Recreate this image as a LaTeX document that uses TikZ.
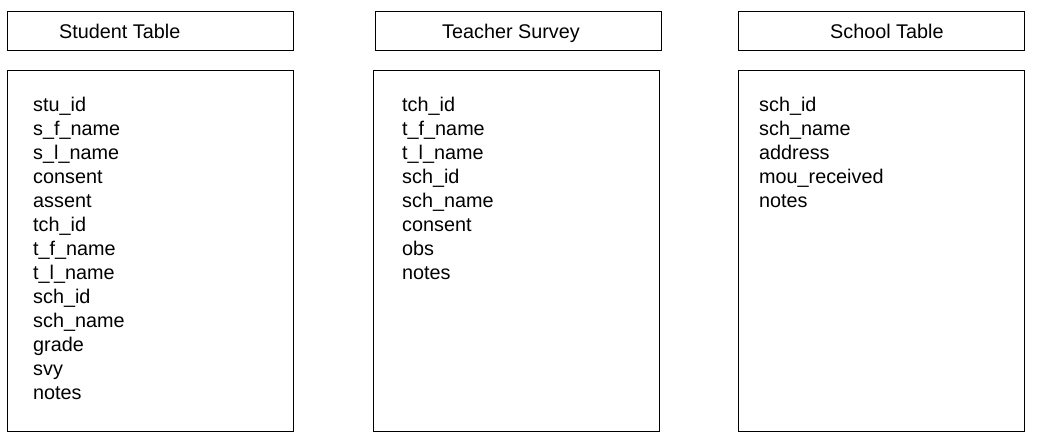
\documentclass[tikz,border=0pt]{standalone}
\usepackage{fontspec}
\setmainfont{Liberation Sans}
\begin{document}
\begin{tikzpicture}[x=1pt,y=-1pt,
  box/.style={draw=black,line width=1pt,fill=white},
  hdr/.style={anchor=base west,inner sep=0pt,font=\fontsize{19.8}{23}\selectfont},
  fields/.style={anchor=base west,inner sep=0pt,align=left,font=\fontsize{19.8}{24}\selectfont}]
\useasboundingbox (0,0) rectangle (1038,444);
\fill[white] (0,0) rectangle (1038,444);
% headers
\draw[box] (7.5,12) rectangle (293.5,50.5);
\draw[box] (375.5,12) rectangle (661.5,50.5);
\draw[box] (738.5,12) rectangle (1024.5,50.5);
\node[hdr] (hs) at (59,38.5) {Student Table};
\node[hdr] (ht) at (442,38.5) {Teacher Survey};
\node[hdr] (hc) at (830,38.5) {School Table};
% bodies
\draw[box] (7.5,70.5) rectangle (293.5,431.5);
\draw[box] (373.5,70.5) rectangle (659.5,431.5);
\draw[box] (738.5,70.5) rectangle (1024.5,431.5);
\node[fields] (fs) at (33,399) {stu\_id\\s\_f\_name\\s\_l\_name\\consent\\assent\\tch\_id\\t\_f\_name\\t\_l\_name\\sch\_id\\sch\_name\\grade\\svy\\notes};
\node[fields] (ft) at (402,279) {tch\_id\\t\_f\_name\\t\_l\_name\\sch\_id\\sch\_name\\consent\\obs\\notes};
\node[fields] (fc) at (759,207) {sch\_id\\sch\_name\\address\\mou\_received\\notes};
\end{tikzpicture}
\end{document}
